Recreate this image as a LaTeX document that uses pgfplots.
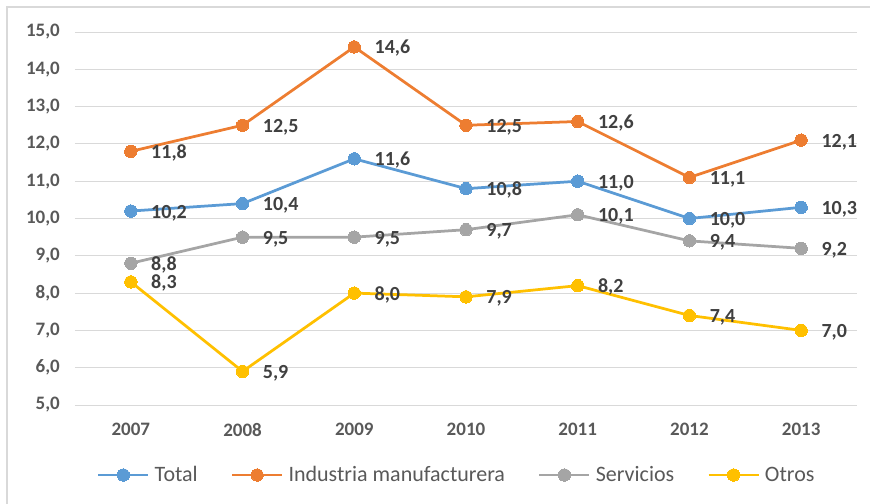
\documentclass[border=0pt]{standalone}
\usepackage{pgfplots}
\pgfplotsset{compat=1.18}
\usepackage{pgfplotstable}
\usepackage{fontspec}
\setmainfont{Carlito}
\definecolor{cTot}{HTML}{5B9BD5}
\definecolor{cInd}{HTML}{ED7D31}
\definecolor{cSer}{HTML}{A5A5A5}
\definecolor{cOtr}{HTML}{FFC000}
\definecolor{gridc}{HTML}{D9D9D9}
\definecolor{tickc}{HTML}{595959}
\definecolor{labc}{HTML}{404040}

\pgfplotstableread{
x total ind serv otros
0 10.2 11.8 8.8 8.3
1 10.4 12.5 9.5 5.9
2 11.6 14.6 9.5 8.0
3 10.8 12.5 9.7 7.9
4 11.0 12.6 10.1 8.2
5 10.0 11.1 9.4 7.4
6 10.3 12.1 9.2 7.0
}\datatable

\begin{document}
\begin{tikzpicture}
\begin{axis}[
  name=ax,
  scale only axis,
  width=782bp, height=373bp,
  xmin=-0.5, xmax=6.5,
  ymin=5, ymax=15,
  ytick={5,6,7,8,9,10,11,12,13,14,15},
  xtick={0,1,2,3,4,5,6},
  xticklabels={2007,2008,2009,2010,2011,2012,2013},
  ymajorgrids,
  grid style={draw=gridc, line width=0.9bp},
  axis line style={draw=none},
  tick style={draw=none},
  clip=false,
  /pgf/number format/.cd, fixed, fixed zerofill, precision=1, use comma, assume math mode=true,
  /pgfplots/.cd,
  yticklabel style={font=\fontsize{19bp}{21bp}\selectfont\bfseries, text=tickc, inner sep=0pt, anchor=east, xshift=-15bp},
  xticklabel style={font=\fontsize{19bp}{21bp}\selectfont\bfseries, text=tickc, inner sep=0pt, anchor=north, yshift=-18bp},
  every node near coord/.style={font=\fontsize{20bp}{22bp}\selectfont\bfseries, text=labc, anchor=base west, inner sep=0pt, xshift=19bp, yshift=-7bp},
  legend columns=4,
  legend style={draw=none, fill=none, at={(0.0281,-0.1877)}, anchor=west, inner sep=0pt, outer sep=0pt,
    font=\fontsize{22bp}{24bp}\selectfont, text=tickc,
    cells={anchor=west, inner sep=0pt},
    /tikz/every odd column/.append style={column sep=3bp},
    /tikz/every even column/.append style={column sep=31bp}},
  legend image code/.code={\draw[mark repeat=2, mark phase=2] plot coordinates {(0bp,0bp) (25bp,0bp) (50bp,0bp)};},
  every axis plot/.append style={line width=2.75bp, line join=round},
]
\addplot[color=cTot, mark=*, mark size=6.2bp, mark options={solid, fill=cTot, draw=cTot, line width=0pt}] table[x=x, y=total]{\datatable};
\addlegendentry{Total}
\addplot[color=cInd, mark=*, mark size=6.2bp, mark options={solid, fill=cInd, draw=cInd, line width=0pt}] table[x=x, y=ind]{\datatable};
\addlegendentry{Industria manufacturera}
\addplot[color=cSer, mark=*, mark size=6.2bp, mark options={solid, fill=cSer, draw=cSer, line width=0pt}] table[x=x, y=serv]{\datatable};
\addlegendentry{Servicios}
\addplot[color=cOtr, mark=*, mark size=6.2bp, mark options={solid, fill=cOtr, draw=cOtr, line width=0pt}] table[x=x, y=otros]{\datatable};
\addlegendentry{Otros}

\addplot[draw=none, mark=none, forget plot, nodes near coords] table[x=x, y=total]{\datatable};
\addplot[draw=none, mark=none, forget plot, nodes near coords] table[x=x, y=ind]{\datatable};
\addplot[draw=none, mark=none, forget plot, nodes near coords] table[x=x, y=serv]{\datatable};
\addplot[draw=none, mark=none, forget plot, nodes near coords] table[x=x, y=otros]{\datatable};
\end{axis}
\draw[gridc, line width=1.3bp] ([shift={(-68bp,-99bp)}]ax.south west) -- ([shift={(-68bp,398bp)}]ax.south west) -- ([shift={(795bp,398bp)}]ax.south west);
\pgfresetboundingbox
\useasboundingbox ([shift={(-75bp,-99bp)}]ax.south west) rectangle ([shift={(795bp,405bp)}]ax.south west);
\end{tikzpicture}
\end{document}
